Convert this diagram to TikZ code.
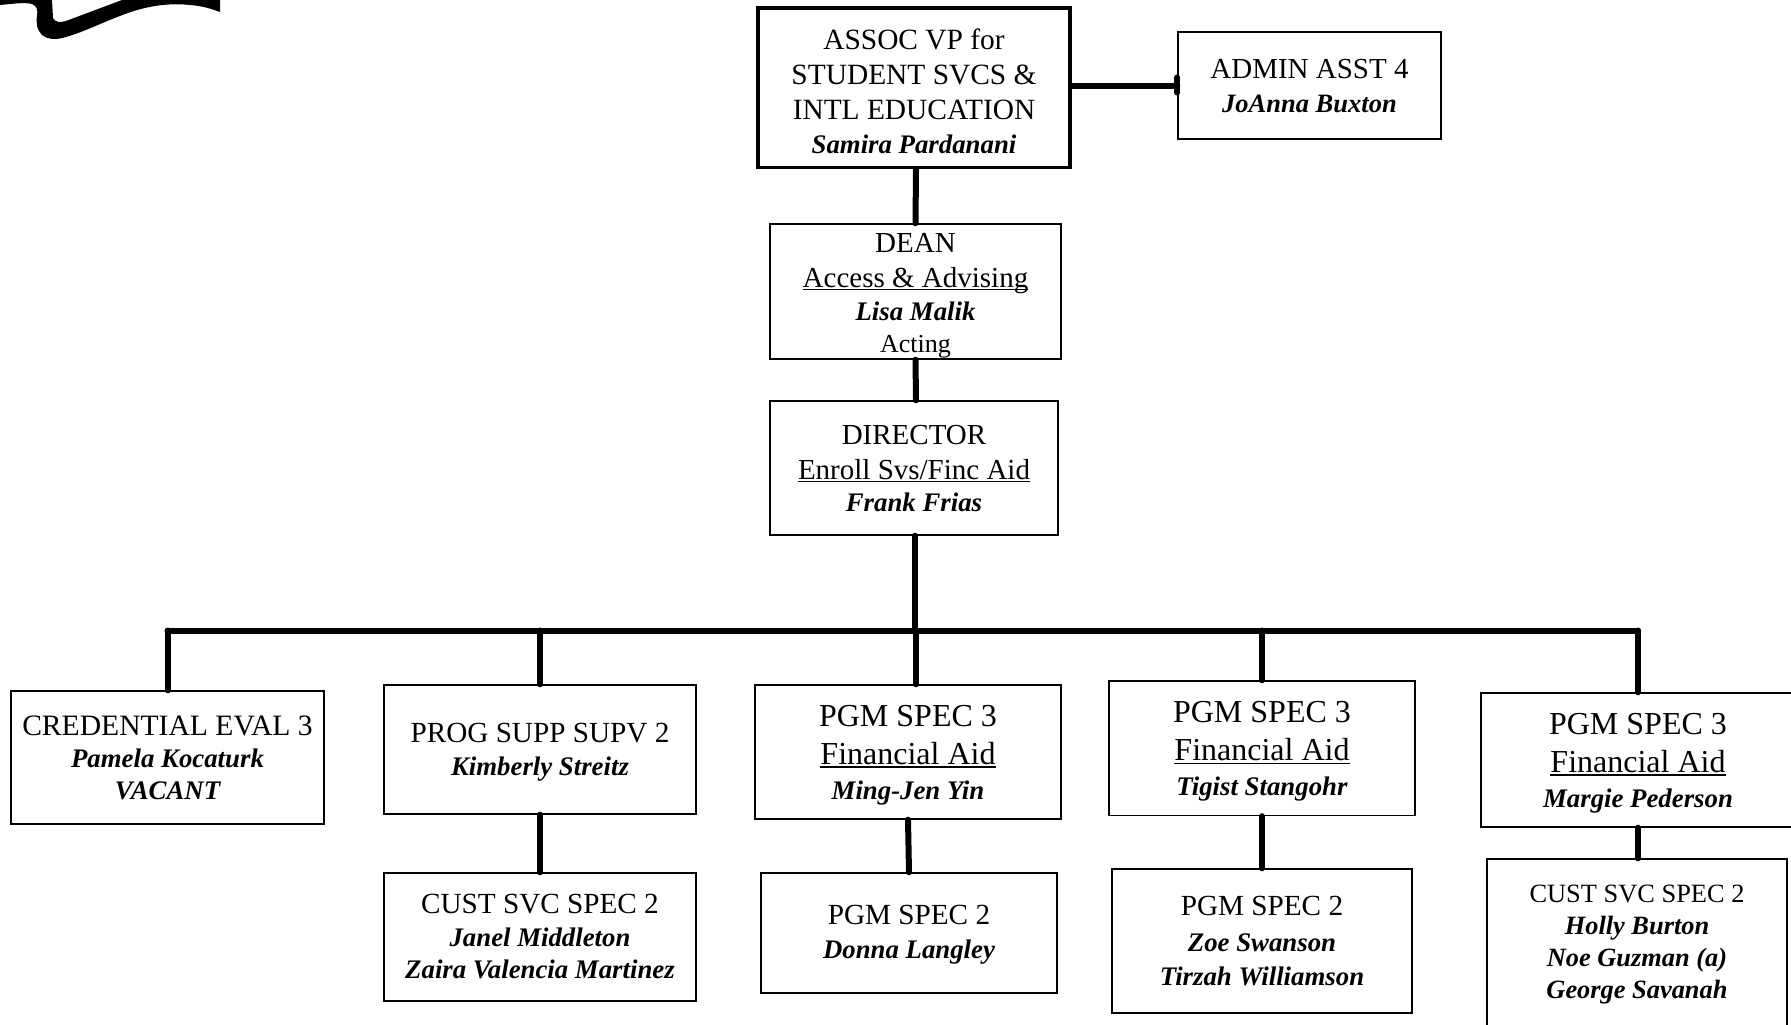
\documentclass[tikz,border=0pt]{standalone}
\usepackage{fontspec}
\setmainfont{Liberation Serif}
\newcommand\uu[1]{\leavevmode\setbox0=\hbox{#1}\rlap{\rule[-3.2pt]{\wd0}{1.5pt}}\box0}
\newcommand\bx[8][boxn]{%
 \node[#1,minimum width=#5pt-#3pt,minimum height=#6pt-#4pt] (#2) at ({(#3+#5)/2},{(#4+#6)/2})
 {\makebox[0pt][c]{\raisebox{#7pt}[0pt][0pt]{\parbox[c]{300pt}{\centering\parskip0pt\lineskiplimit=-100pt #8}}}};}
\newcommand\rr[3]{{\fontsize{#1}{#2}\selectfont #3\par}}
\newcommand\bi[3]{{\fontsize{#1}{#2}\selectfont\bfseries\itshape #3\par}}
\tikzset{
 x=1pt,y=-1pt,
 boxn/.style={draw=black,line width=1.4pt,rectangle,inner sep=0pt},
 boxt/.style={boxn,line width=3.2pt},
 link/.style={draw=black,line width=6pt,line cap=round}
}
\begin{document}
\begin{tikzpicture}
\useasboundingbox (0,0) rectangle (1791,1025);
\clip (0,0) rectangle (1791,1025);
% ribbon fragment
\fill[black] (0,0) -- (0,5) .. controls (12,4) and (24,2) .. (32,4)
 .. controls (37,6) and (38,10) .. (37,16) .. controls (36,24) and (37,30) .. (42,35)
 .. controls (47,39) and (54,40) .. (62,38) .. controls (80,34) and (105,21) .. (128,13)
 .. controls (150,5) and (172,3) .. (190,5) .. controls (203,6) and (212,9) .. (220,12)
 -- (220,0) -- (122,0) -- (66,21) .. controls (60,23) and (55,22) .. (53,18) -- (52,0) -- cycle;
% boxes
\bx[boxt]{assoc}{758}{8}{1070}{167.5}{-6.5}{\rr{29.4}{35}{ASSOC VP for}\rr{29.4}{35}{STUDENT SVCS \&}\rr{29.4}{35}{INTL EDUCATION}\bi{26.8}{34}{Samira Pardanani}}
\bx{admin}{1178}{32}{1441}{139}{-3.5}{\rr{29}{34}{ADMIN ASST 4}\bi{26.5}{34}{JoAnna Buxton}}
\bx{dean}{770}{224}{1061}{359}{-6.5}{\rr{29}{35}{DEAN}\rr{29}{35}{\uu{Access \& Advising}}\bi{26.8}{33}{Lisa Malik}\rr{26}{32}{Acting}}
\bx{dir}{770}{401}{1058}{535}{-3}{\rr{29}{35}{DIRECTOR}\rr{29}{35}{\uu{Enroll Svs/Finc Aid}}\bi{26.8}{32.5}{Frank Frias}}
\bx{cred}{11}{691}{324}{824}{-2.5}{\rr{29.6}{33}{CREDENTIAL EVAL 3}\bi{26.8}{32}{Pamela Kocaturk}\bi{26.8}{32}{VACANT}}
\bx{prog}{384}{685}{696}{814}{-5.5}{\rr{29.2}{33}{PROG SUPP SUPV 2}\bi{26.8}{33}{Kimberly Streitz}}
\bx{pa}{755}{685}{1061}{819}{-6}{\rr{32}{38}{PGM SPEC 3}\rr{32}{38}{\uu{Financial Aid}}\bi{26.8}{35}{Ming-Jen Yin}}
\bx{pb}{1109}{681}{1415}{815.5}{-6}{\rr{32}{38}{PGM SPEC 3}\rr{32}{38}{\uu{Financial Aid}}\bi{26.8}{35}{Tigist Stangohr}}
\bx{pc}{1481}{693}{1795}{827}{-6}{\rr{32}{38}{PGM SPEC 3}\rr{32}{38}{\uu{Financial Aid}}\bi{26.8}{35}{Margie Pederson}}
\bx{cust}{384}{873}{696}{1001}{-2.5}{\rr{29.2}{34}{CUST SVC SPEC 2}\bi{26.8}{33}{Janel Middleton}\bi{26.8}{32}{Zaira Valencia Martinez}}
\bx{sa}{761}{873}{1057}{993}{-4.5}{\rr{29.2}{34}{PGM SPEC 2}\bi{26.8}{34}{Donna Langley}}
\bx{sb}{1112}{869}{1412}{1013}{-2.5}{\rr{29.2}{36}{PGM SPEC 2}\bi{26.8}{36}{Zoe Swanson}\bi{26.8}{34}{Tirzah Williamson}}
\bx{sc}{1487}{859}{1787}{1040}{2.5}{\rr{26.4}{32}{CUST SVC SPEC 2}\bi{26.4}{32}{Holly Burton}\bi{26.4}{32}{Noe Guzman (a)}\bi{26.4}{32}{George Savanah}}
% connectors
\coordinate (bus) at (915,630.5);
\draw[link] (assoc.east |- admin.west) -- (admin.west);
\draw[link] ([yshift=-7pt]admin.west) -- ([yshift=8pt]admin.west);
\draw[link] ([xshift=2pt]assoc.south) -- (dean.north);
\draw[link] (dean.south) -- ([xshift=2pt]dir.north);
\draw[link] ([xshift=1pt]dir.south) -- (bus);
\draw[link] (cred.north |- bus) -- (pc.north |- bus);
\draw[link] (cred.north |- bus) -- (cred.north);
\draw[link] (prog.north |- bus) -- (prog.north);
\draw[link] ([xshift=8pt]pa.north |- bus) -- ([xshift=8pt]pa.north);
\draw[link] (pb.north |- bus) -- (pb.north);
\draw[link] (pc.north |- bus) -- (pc.north);
\draw[link] (prog.south) -- (cust.north);
\draw[link] (pa.south) -- (sa.north);
\draw[link] (pb.south) -- (sb.north);
\draw[link] (pc.south) -- (pc.south |- sc.north);
\end{tikzpicture}
\end{document}
